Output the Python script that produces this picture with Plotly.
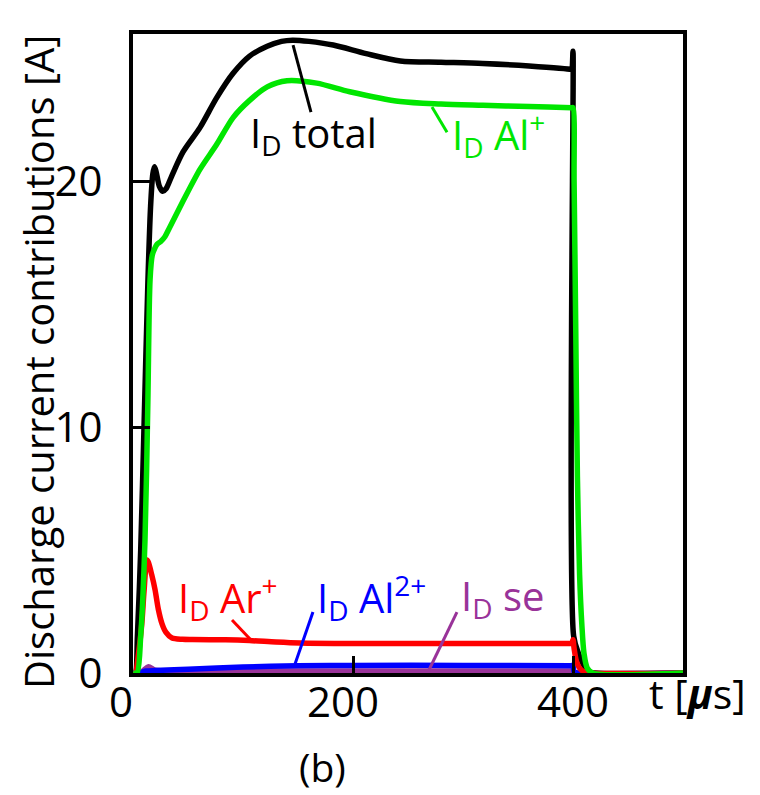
import plotly.graph_objects as go

# time [µs] and currents [A]
t_total = [0, 2, 4, 7, 10, 13.6, 16, 18, 19.5, 21, 24, 27, 30, 35, 45.5, 61, 76, 91, 106, 122, 135, 145, 160, 182, 212, 243, 280, 318, 360, 398.5, 399, 400, 400.6, 405, 410, 415, 420, 500]
i_total = [0, 0, 1.5, 5, 10, 16, 19, 20.3, 20.6, 20.4, 19.8, 19.6, 19.7, 20.2, 21.2, 22.2, 23.4, 24.4, 25.1, 25.5, 25.7, 25.75, 25.7, 25.55, 25.2, 24.9, 24.85, 24.8, 24.7, 24.56, 24.55, 25.3, 1.5, 0.8, 0.3, 0.05, 0, 0]

t_al1 = [0, 3.6, 7, 10.9, 13.5, 15.5, 17.5, 20, 22, 25, 29, 33, 45.5, 61, 76, 91, 106, 122, 140, 167, 197, 243, 280, 318, 360, 399, 400, 401, 402.5, 404, 406, 408, 410, 413, 418, 500]
i_al1 = [0, 0, 1.5, 5.4, 11, 16.0, 17.0, 17.3, 17.45, 17.55, 17.75, 18.1, 19.2, 20.5, 21.5, 22.6, 23.3, 23.85, 24.1, 24.0, 23.65, 23.25, 23.15, 23.1, 23.05, 23.0, 23.0, 20, 14, 8, 4, 2, 0.8, 0.2, 0, 0]

t_ar = [0, 2, 5, 8, 10, 12.7, 14, 17, 20, 23, 26.4, 30, 35.5, 45, 54, 84, 106, 130, 152, 200, 261, 330, 398, 399, 400, 401, 403, 406, 410, 415, 500]
i_ar = [0, 0, 0.8, 2.0, 3.3, 4.6, 4.5, 4.0, 3.4, 2.6, 2.0, 1.65, 1.42, 1.37, 1.36, 1.35, 1.32, 1.26, 1.22, 1.2, 1.2, 1.2, 1.2, 1.2, 1.35, 1.0, 0.5, 0.2, 0.05, 0, 0]

t_al2 = [0, 5, 12, 20, 50, 100, 150, 200, 300, 398, 400, 401, 405, 500]
i_al2 = [0, 0, 0.08, 0.1, 0.15, 0.24, 0.3, 0.31, 0.31, 0.3, 0.3, 0.05, 0, 0]

t_se = [0, 8, 14, 20, 40, 100, 200, 300, 398, 400, 401, 500]
i_se = [0, 0.05, 0.25, 0.12, 0.08, 0.08, 0.08, 0.08, 0.08, 0.08, 0, 0]

x_ticks = [0, 200, 400]
x_tick_labels = ["0", "200", "400"]
y_ticks = [0, 10, 20]
y_tick_labels = ["0", "10", "20"]

FONT = "Open Sans"
GREEN = "#00e600"
RED = "#ff0000"
BLUE = "#0000ff"
PURPLE = "#993399"

# page body has an 8px margin; lay out the figure so the screenshot matches
OFF = 8
FIG_W, FIG_H = 760 - OFF, 795 - OFF
# plot-area geometry in screenshot pixels
L, R, T, B = 133, 683, 34, 673
W, H = R - L, B - T

def px(xp):
    return (xp - L) / W

def py(yp):
    return (B - yp) / H

fig = go.Figure()
lw = 5.5
line_common = dict(width=lw, shape="spline", smoothing=0.8)
fig.add_trace(go.Scatter(x=t_total, y=i_total, mode="lines", line=dict(color="black", **line_common)))
fig.add_trace(go.Scatter(x=t_se, y=i_se, mode="lines", line=dict(color=PURPLE, **line_common)))
fig.add_trace(go.Scatter(x=t_al2, y=i_al2, mode="lines", line=dict(color=BLUE, **line_common)))
fig.add_trace(go.Scatter(x=t_ar, y=i_ar, mode="lines", line=dict(color=RED, **line_common)))
fig.add_trace(go.Scatter(x=t_al1, y=i_al1, mode="lines", line=dict(color=GREEN, **line_common)))

# leader lines (label callouts)
leaders = [
    ((145.5, 25.55), (161.8, 22.82), "black"),
    ((271.8, 23.03), (285.5, 22.0), GREEN),
    ((90.0, 2.16), (106.4, 1.38), RED),
    ((163.6, 2.48), (147.3, 0.37), BLUE),
    ((294.5, 2.48), (268.2, 0.04), PURPLE),
]
for (x0, y0), (x1, y1), c in leaders:
    fig.add_shape(type="line", x0=x0, y0=y0, x1=x1, y1=y1, xref="x", yref="y",
                  line=dict(color=c, width=3))

labels = [
    (164.5, 21.93, "I<sub>D</sub> total", "black"),
    (332, 21.93, "I<sub>D</sub> Al<sup>+</sup>", GREEN),
    (86.4, 3.09, "I<sub>D</sub> Ar<sup>+</sup>", RED),
    (217, 3.09, "I<sub>D</sub> Al<sup>2+</sup>", BLUE),
    (336, 3.09, "I<sub>D</sub> se", PURPLE),
]
for x, y, txt, c in labels:
    fig.add_annotation(x=x, y=y, xref="x", yref="y", text=txt, showarrow=False,
                       font=dict(family=FONT, size=40, color=c), xanchor="center", yanchor="middle")

# x tick labels
x_shifts = [-12, -10, 0]
for v, lab, s in zip(x_ticks, x_tick_labels, x_shifts):
    fig.add_annotation(x=v, y=py(700), xref="x", yref="paper", text=lab, showarrow=False,
                       xshift=s, font=dict(family=FONT, size=42, color="black"),
                       xanchor="center", yanchor="middle")

# axis titles and panel label
fig.add_annotation(x=px(697), y=py(693), xref="paper", yref="paper", text="t [<b><i>μ</i></b>s]",
                   showarrow=False, font=dict(family=FONT, size=41, color="black"),
                   xanchor="center", yanchor="middle")
fig.add_annotation(x=px(38), y=py(362), xref="paper", yref="paper",
                   text="Discharge current contributions [A]", textangle=-90, showarrow=False,
                   font=dict(family=FONT, size=40, color="black"), xanchor="center", yanchor="middle")
fig.add_annotation(x=px(322), y=py(767), xref="paper", yref="paper", text="(b)", showarrow=False,
                   font=dict(family=FONT, size=39, color="black"), xanchor="center", yanchor="middle")

fig.update_layout(
    width=FIG_W, height=FIG_H,
    margin=dict(l=L - OFF, r=760 - R, t=T - OFF, b=795 - B, autoexpand=False),
    paper_bgcolor="white", plot_bgcolor="white",
    showlegend=False,
    font=dict(family=FONT, color="black"),
)
fig.update_xaxes(range=[0, 500], tickvals=x_ticks, showticklabels=False,
                 ticks="inside", ticklen=17, tickwidth=3, tickcolor="black",
                 showline=True, linewidth=4, linecolor="black", mirror=True,
                 showgrid=False, zeroline=False, automargin=False)
fig.update_yaxes(range=[0, 26], tickvals=y_ticks, ticktext=y_tick_labels,
                 ticks="inside", ticklen=17, tickwidth=3, tickcolor="black",
                 showline=True, linewidth=4, linecolor="black", mirror=True,
                 showgrid=False, zeroline=False, tickfont=dict(family=FONT, size=42),
                 ticklabelstandoff=18, automargin=False)

fig.write_html("out.html")
